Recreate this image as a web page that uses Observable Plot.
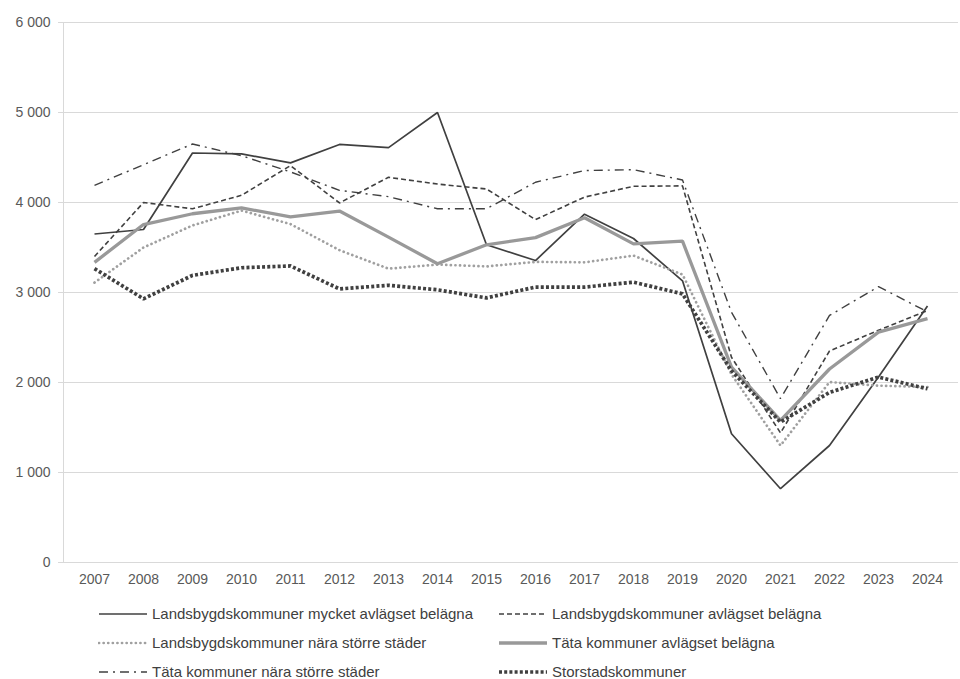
<!DOCTYPE html>
<html>
<head>
<meta charset="utf-8">
<script src="https://cdn.jsdelivr.net/npm/d3@7"></script>
<script src="https://cdn.jsdelivr.net/npm/@observablehq/plot@0.6"></script>
<style>
  body { margin: 0; background: #fff; font-family: "Liberation Sans", Arial, sans-serif; overflow: hidden; }
  #chart svg { display: block; }
  #legend { display: grid; grid-template-columns: 400px 400px; margin-left: 98px; margin-top: 9px; }
  .item { display: flex; align-items: center; height: 29px; font-size: 15px; color: #404040; white-space: nowrap; }
  .item svg { margin-right: 4px; flex: none; }
</style>
</head>
<body>
<div id="chart"></div>
<div id="legend"></div>
<script>
const years = ["2007","2008","2009","2010","2011","2012","2013","2014","2015","2016","2017","2018","2019","2020","2021","2022","2023","2024"];
const seriesNames = [
  "Landsbygdskommuner mycket avlägset belägna",
  "Landsbygdskommuner avlägset belägna",
  "Landsbygdskommuner nära större städer",
  "Täta kommuner avlägset belägna",
  "Täta kommuner nära större städer",
  "Storstadskommuner"
];
const mycketAvlagset = [3650,3700,4550,4540,4440,4645,4610,5000,3530,3355,3870,3600,3130,1430,820,1300,2060,2850];
const avlagset = [3400,4000,3930,4080,4410,3995,4280,4205,4150,3810,4060,4180,4185,2280,1440,2350,2580,2800];
const naraStader = [3110,3500,3745,3910,3760,3470,3265,3310,3290,3340,3335,3410,3200,2090,1300,2005,1965,1950];
const tataAvlagset = [3335,3755,3875,3940,3840,3905,3615,3320,3530,3610,3830,3540,3570,2170,1580,2150,2560,2710];
const tataNara = [4190,4420,4650,4520,4340,4135,4065,3930,3930,4225,4355,4365,4250,2780,1820,2745,3065,2785];
const storstad = [3265,2930,3190,3275,3295,3040,3080,3030,2940,3060,3060,3115,2985,2130,1560,1890,2060,1930];
const yTicks = [0,1000,2000,3000,4000,5000,6000];

const allValues = [mycketAvlagset, avlagset, naraStader, tataAvlagset, tataNara, storstad];
const styles = [
  {stroke: "#404040", strokeWidth: 1.7, dash: null, cap: "butt"},
  {stroke: "#404040", strokeWidth: 1.6, dash: "5,3", cap: "butt"},
  {stroke: "#a0a0a0", strokeWidth: 2.7, dash: "0.1,4.5", cap: "round"},
  {stroke: "#999999", strokeWidth: 3.3, dash: null, cap: "butt"},
  {stroke: "#404040", strokeWidth: 1.4, dash: "9,5,2,5", cap: "butt"},
  {stroke: "#404040", strokeWidth: 3.7, dash: "3,2.2", cap: "butt"}
];

const fmt = d3.formatLocale({thousands: " ", grouping: [3], decimal: ","}).format(",");

const lineMarks = allValues.map((vals, i) => {
  const data = years.map((y, j) => ({year: y, value: vals[j]}));
  const s = styles[i];
  return Plot.line(data, {
    x: "year", y: "value",
    stroke: s.stroke, strokeWidth: s.strokeWidth,
    strokeDasharray: s.dash, strokeLinecap: s.cap, strokeLinejoin: "miter"
  });
});

const chart = Plot.plot({
  width: 960,
  height: 590,
  marginLeft: 63,
  marginRight: 2,
  marginTop: 22,
  marginBottom: 28,
  style: {fontFamily: "'Liberation Sans', Arial, sans-serif", fontSize: "14px", color: "#595959", background: "#fff"},
  x: {type: "point", domain: years, padding: 0.5},
  y: {domain: [0, 6000]},
  marks: [
    Plot.ruleY(yTicks, {stroke: "#d9d9d9", strokeWidth: 1, strokeOpacity: 1}),
    Plot.axisY({ticks: yTicks, tickSize: 5, tickPadding: 8, tickFormat: fmt, label: null, stroke: "#d9d9d9", strokeOpacity: 1, fill: "#595959", fontSize: 14}),
    Plot.axisX({tickSize: 0, tickPadding: 12, label: null, fill: "#595959", fontSize: 14}),
    Plot.frame({anchor: "left", stroke: "#d9d9d9", strokeOpacity: 1}),
    ...lineMarks
  ]
});
document.getElementById("chart").appendChild(chart);

const legend = document.getElementById("legend");
seriesNames.forEach((name, i) => {
  const s = styles[i];
  const item = document.createElement("div");
  item.className = "item";
  const ns = "http://www.w3.org/2000/svg";
  const svg = document.createElementNS(ns, "svg");
  svg.setAttribute("width", 50);
  svg.setAttribute("height", 10);
  const ln = document.createElementNS(ns, "line");
  ln.setAttribute("x1", 1); ln.setAttribute("x2", 49);
  ln.setAttribute("y1", 5); ln.setAttribute("y2", 5);
  ln.setAttribute("stroke", s.stroke);
  ln.setAttribute("stroke-width", s.strokeWidth);
  if (s.dash) ln.setAttribute("stroke-dasharray", s.dash);
  ln.setAttribute("stroke-linecap", s.cap);
  svg.appendChild(ln);
  item.appendChild(svg);
  const span = document.createElement("span");
  span.textContent = name;
  item.appendChild(span);
  legend.appendChild(item);
});
</script>
</body>
</html>
